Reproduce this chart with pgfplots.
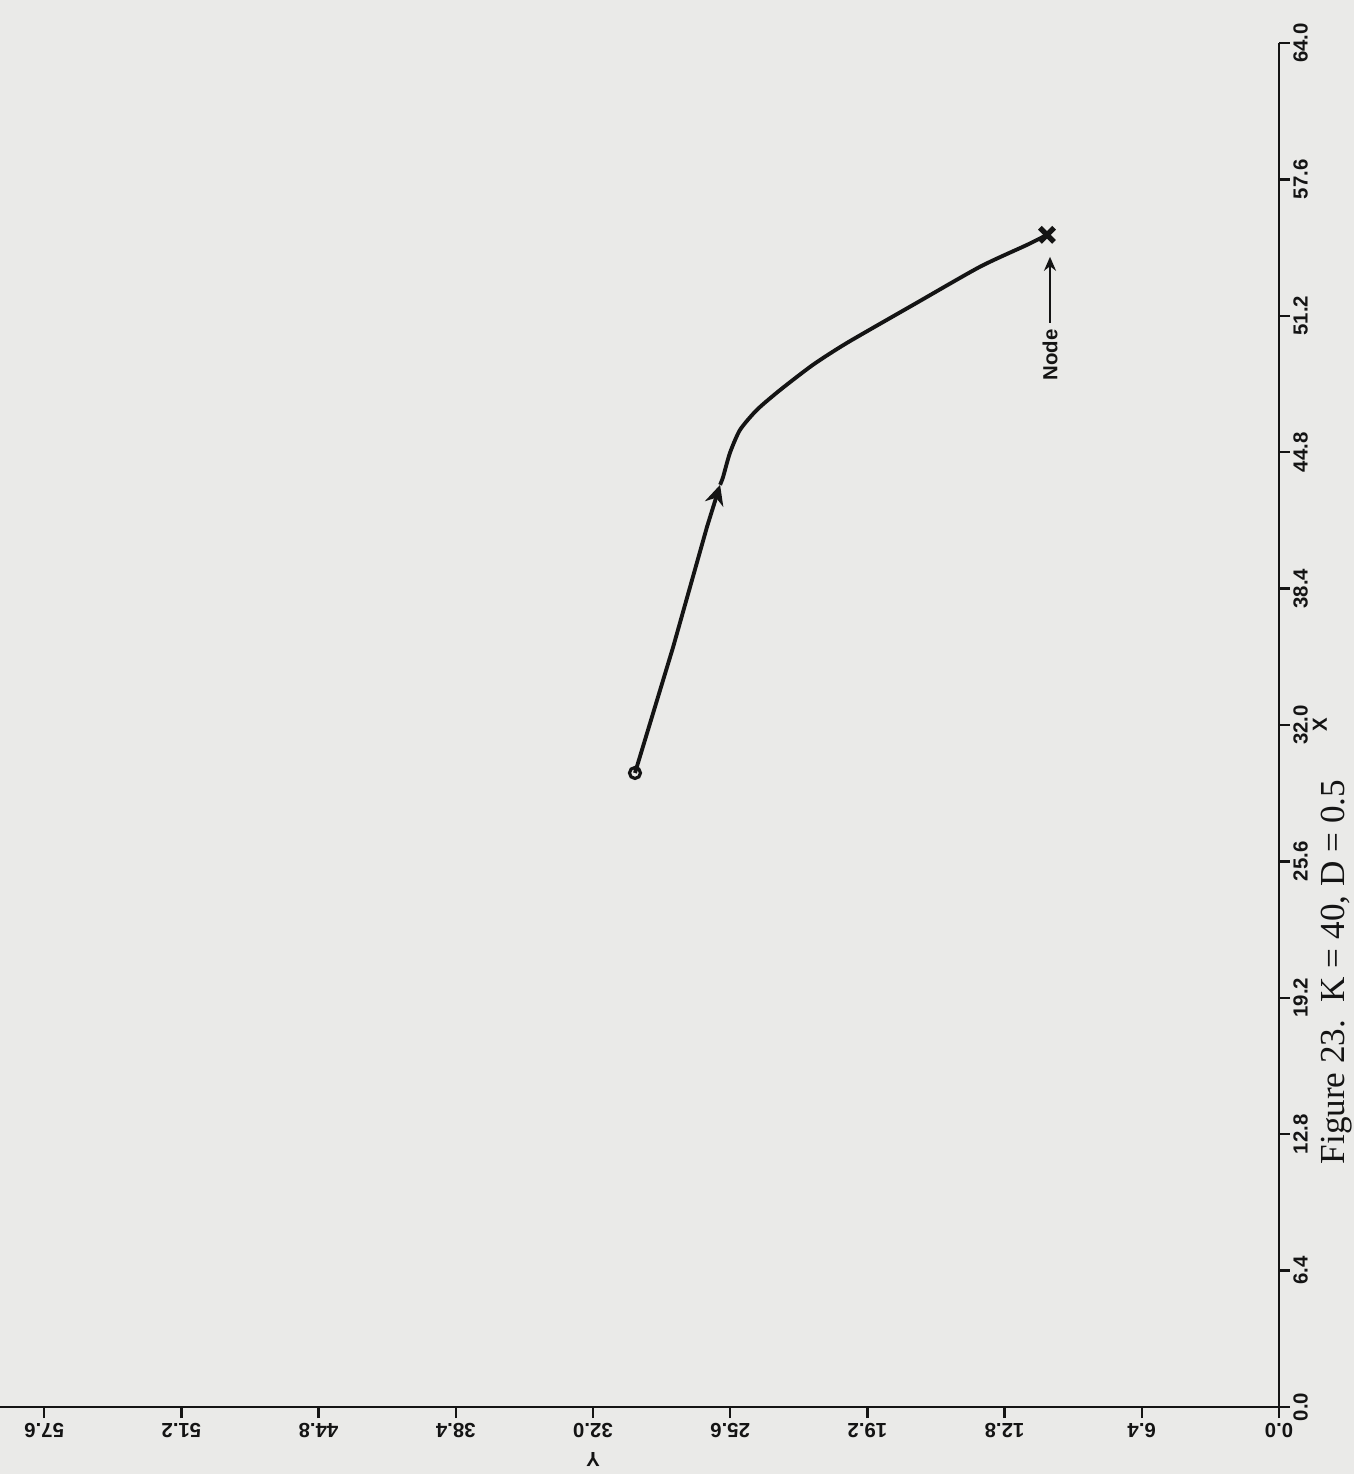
\documentclass[border=0pt]{standalone}
\usepackage{pgfplots}
\pgfplotsset{compat=1.18}
\usepackage{fontspec}
\setmainfont{Liberation Sans}
\newfontfamily\capfont{Liberation Serif}
\usetikzlibrary{arrows.meta}
\definecolor{paper}{RGB}{234,234,232}
\definecolor{ink}{RGB}{20,20,20}
\newcommand{\lblfont}{\bfseries\fontsize{5.8}{6.5}\selectfont}
\begin{document}
\begin{tikzpicture}
\path[use as bounding box, fill=paper] (-127.9mm,-6.7mm) rectangle (7.5mm,140.7mm);
\begin{axis}[
  at={(0,0)}, anchor=origin,
  scale only axis,
  width=137.2mm, height=136.4mm,
  xmin=0, xmax=64, ymin=0, ymax=64,
  x dir=reverse,
  axis x line*=bottom, axis y line*=right,
  xtick={0,6.4,12.8,19.2,25.6,32.0,38.4,44.8,51.2,57.6},
  ytick={0,6.4,12.8,19.2,25.6,32.0,38.4,44.8,51.2,57.6,64.0},
  minor tick num=0,
  tick align=outside, major tick length=1.1mm,
  every tick/.style={ink, line width=0.7pt},
  axis line style={ink, line width=0.8pt},
  /pgf/number format/fixed,
  /pgf/number format/fixed zerofill,
  /pgf/number format/precision=1,
  /pgf/number format/assume math mode=true,
  tick label style={font=\lblfont, text=ink},
  xticklabel style={rotate=180, anchor=south, inner sep=1.2pt},
  yticklabel style={rotate=90, anchor=north, inner sep=0.8pt},
  clip=false,
]
% path from start (o) to the arrow
\addplot[ink, line width=1.1pt, line join=round,
  -{Stealth[length=2mm,width=1.9mm]}] table {
Y X
30.04 29.75
28.26 35.66
26.68 41.30
26.07 43.27
};
% rest of the path to the node
\addplot[ink, line width=1.1pt, line join=round, smooth, tension=0.4] table {
Y X
26.07 43.27
25.93 43.64
25.61 44.77
25.14 45.85
24.35 46.79
23.27 47.72
21.74 48.90
20.15 49.93
17.07 51.71
13.95 53.50
11.75 54.53
10.82 55.00
};
\addplot[ink, only marks, mark=o, mark size=0.55mm, mark options={line width=0.9pt}] coordinates {(30.04,29.75)};
\addplot[ink, only marks, mark=x, mark size=1.0mm, mark options={line width=1.5pt}] coordinates {(10.82,55.00)};
% annotation
\draw[ink, line width=0.7pt, -{Stealth[length=1.4mm,width=1.2mm]}] (axis cs:10.68,50.87) -- (axis cs:10.68,53.97);
\node[rotate=90, anchor=east, inner sep=0pt, font=\lblfont, text=ink] at (axis cs:10.68,50.60) {Node};
% axis labels
\node[rotate=90, font=\lblfont, text=ink] at ([xshift=4.1mm]axis cs:0,32) {X};
\node[rotate=180, font=\lblfont, text=ink] at ([yshift=-5.3mm]axis cs:32,0) {Y};
\end{axis}
\node[rotate=90, anchor=south west, inner sep=0pt, font=\capfont\fontsize{10}{12}\selectfont, text=ink] at (7.4mm,24.2mm) {Figure 23.\ \ K = 40, D = 0.5};
\end{tikzpicture}
\end{document}
